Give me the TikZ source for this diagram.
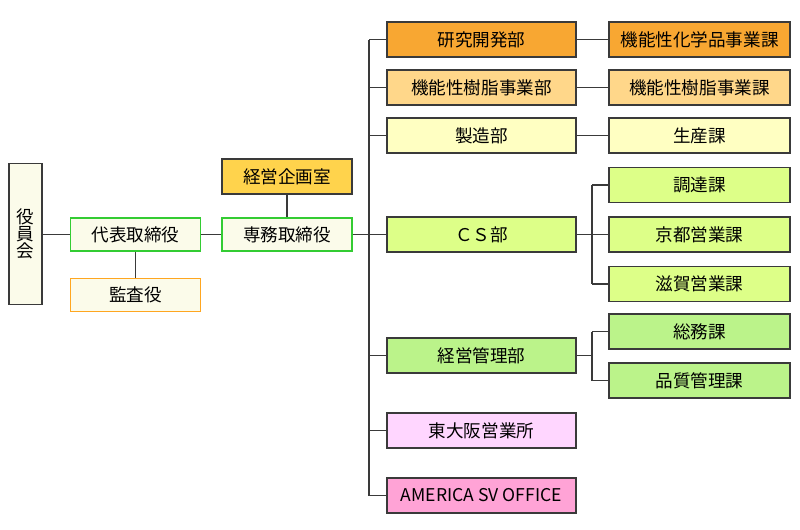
\documentclass[tikz,border=0pt]{standalone}
\usepackage{fontspec}
\setmainfont{Noto Sans CJK JP}
\usetikzlibrary{positioning}

\definecolor{cream}{HTML}{FBFBEA}
\definecolor{kgreen}{HTML}{33CC33}
\definecolor{korange}{HTML}{FFA620}
\definecolor{kgold}{HTML}{FFD34C}
\definecolor{dorange}{HTML}{F8A732}
\definecolor{lorange}{HTML}{FFD78A}
\definecolor{pyellow}{HTML}{FFFFC2}
\definecolor{ygreen}{HTML}{DDFF88}
\definecolor{lgreen}{HTML}{BBF38A}
\definecolor{lpink}{HTML}{FFD6FF}
\definecolor{dpink}{HTML}{FFA3D6}
\definecolor{edge}{HTML}{3A3A3A}

\begin{document}
\begin{tikzpicture}[line width=0.75pt, font=\fontsize{10pt}{12pt}\selectfont,
    box/.style={draw=edge, minimum height=0.7cm, inner sep=0pt},
    exec/.style={box, draw=kgreen, fill=cream, minimum width=2.6cm, minimum height=0.66cm},
    dept/.style={box, minimum width=3.78cm},
    sect/.style={box, minimum width=3.62cm},
    link/.style={draw=edge}]
    \useasboundingbox (0,0) rectangle (16,-10.58);
    % top management
    \node[box, fill=cream, minimum width=0.66cm, minimum height=2.82cm, align=center,
        font=\fontsize{10pt}{9.8pt}\selectfont] (yakuin) at (0.51,-4.68) {役\\員\\会};
    \node[exec] (daihyo) at (2.71,-4.69) {代表取締役};
    \node[exec, draw=korange] (kansa) at (2.71,-5.9) {監査役};
    \node[exec] (senmu) at (5.74,-4.69) {専務取締役};
    \node[box, fill=kgold, minimum width=2.6cm] (kikaku) at (5.74,-3.53) {経営企画室};
    % departments
    \node[dept, fill=dorange] (kenkyu) at (9.63,-0.79) {研究開発部};
    \node[dept, fill=lorange] (jushi) at (9.63,-1.75) {機能性樹脂事業部};
    \node[dept, fill=pyellow] (seizo) at (9.63,-2.71) {製造部};
    \node[dept, fill=ygreen] (cs) at (9.63,-4.69) {ＣＳ部};
    \node[dept, fill=lgreen] (kanri) at (9.63,-7.11) {経営管理部};
    \node[dept, fill=lpink] (higashi) at (9.63,-8.61) {東大阪営業所};
    \node[dept, fill=dpink] (america) at (9.63,-9.91) {AMERICA SV OFFICE};
    % sections
    \node[sect, fill=dorange] (kagaku) at (13.99,-0.79) {機能性化学品事業課};
    \node[sect, fill=lorange] (jushika) at (13.99,-1.75) {機能性樹脂事業課};
    \node[sect, fill=pyellow] (seisan) at (13.99,-2.71) {生産課};
    \node[sect, fill=ygreen] (chotatsu) at (13.99,-3.70) {調達課};
    \node[sect, fill=ygreen] (kyoto) at (13.99,-4.69) {京都営業課};
    \node[sect, fill=ygreen] (shiga) at (13.99,-5.68) {滋賀営業課};
    \node[sect, fill=lgreen] (somu) at (13.99,-6.63) {総務課};
    \node[sect, fill=lgreen] (hinshitsu) at (13.99,-7.61) {品質管理課};
    % connectors
    \coordinate (trunk) at (7.38,0);
    \coordinate (branch) at (11.84,0);
    \draw[link] (daihyo.west) -- (daihyo.west -| yakuin.east);
    \draw[link] (daihyo.south) -- (kansa.north);
    \draw[link] (daihyo.east) -- (senmu.west);
    \draw[link] (kikaku.south) -- (senmu.north);
    \draw[link] (senmu.east) -- (senmu.east -| trunk);
    \draw[link] (kenkyu.west -| trunk) -- (america.west -| trunk);
    \foreach \d in {kenkyu,jushi,seizo,cs,kanri,higashi,america}
        \draw[link] (\d.west) -- (\d.west -| trunk);
    \draw[link] (kenkyu.east) -- (kagaku.west);
    \draw[link] (jushi.east) -- (jushika.west);
    \draw[link] (seizo.east) -- (seisan.west);
    \draw[link] (cs.east) -- (kyoto.west);
    \draw[link] (chotatsu.west -| branch) -- (shiga.west -| branch);
    \draw[link] (kanri.east) -- (kanri.east -| branch);
    \draw[link] (somu.west -| branch) -- (hinshitsu.west -| branch);
    \foreach \s in {chotatsu,shiga,somu,hinshitsu}
        \draw[link] (\s.west) -- (\s.west -| branch);
\end{tikzpicture}
\end{document}
